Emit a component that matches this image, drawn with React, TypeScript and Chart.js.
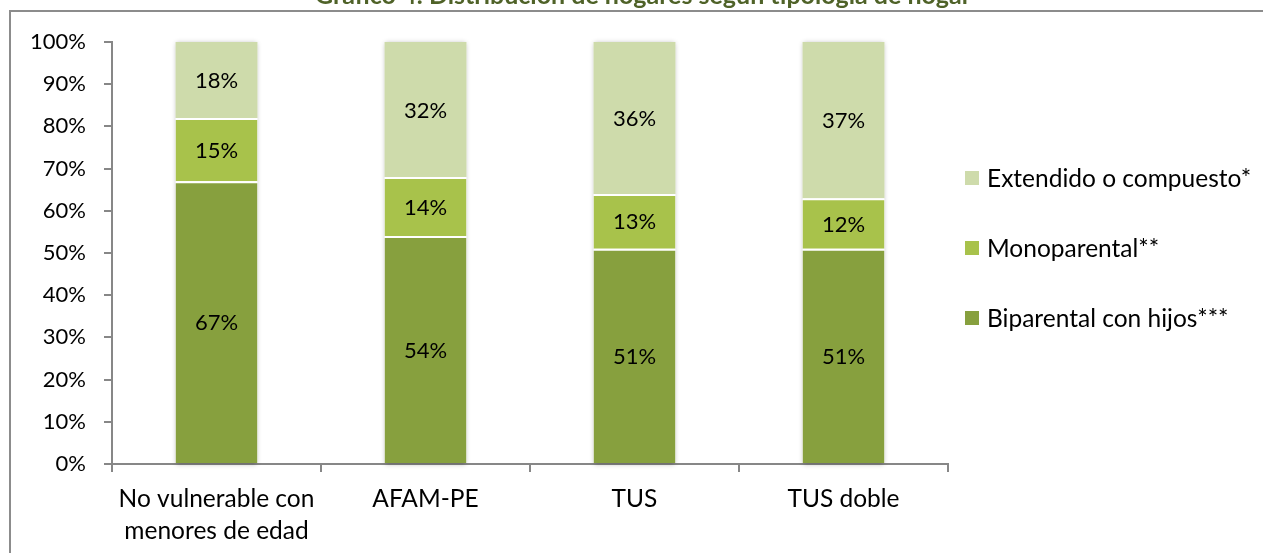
import React, { useEffect, useRef } from "react";
import { Chart, registerables } from "chart.js";

Chart.register(...registerables);

const chartTitle = "Gráfico 4: Distribución de hogares según tipología de hogar";
const categories: (string | string[])[] = [
  ["No vulnerable con", "menores de edad"],
  "AFAM-PE",
  "TUS",
  "TUS doble",
];
const seriesNames = ["Biparental con hijos***", "Monoparental**", "Extendido o compuesto*"];
const biparental = [67, 54, 51, 51];
const monoparental = [15, 14, 13, 12];
const extendido = [18, 32, 36, 37];
const seriesColors = ["#87A03E", "#A8C24B", "#CEDBAB"];
const yTickLabels = ["0%", "10%", "20%", "30%", "40%", "50%", "60%", "70%", "80%", "90%", "100%"];

const W = 1263;
const H = 553;
const FONT = "Lato";
const AXIS_COLOR = "#878787";

const framePlugin = {
  id: "frameTitle",
  beforeDraw(chart: any) {
    const ctx = chart.ctx;
    ctx.save();
    ctx.fillStyle = "#ffffff";
    ctx.fillRect(0, 0, W, H);
    ctx.strokeStyle = "#8C8C8C";
    ctx.lineWidth = 2;
    ctx.strokeRect(10, 11, 2000, 2000);
    ctx.fillStyle = "#4F6228";
    ctx.font = `bold 25px ${FONT}`;
    ctx.textAlign = "center";
    ctx.textBaseline = "alphabetic";
    ctx.fillText(chartTitle, 643, 4);
    ctx.restore();
  },
};

const shadowPlugin = {
  id: "barShadow",
  beforeDatasetsDraw(chart: any) {
    const ctx = chart.ctx;
    const n = chart.data.datasets.length;
    const first = chart.getDatasetMeta(0).data;
    const last = chart.getDatasetMeta(n - 1).data;
    ctx.save();
    ctx.shadowColor = "rgba(0,0,0,0.30)";
    ctx.shadowBlur = 5;
    ctx.shadowOffsetX = 0;
    ctx.shadowOffsetY = 1;
    ctx.fillStyle = "#ffffff";
    first.forEach((el: any, i: number) => {
      const p = el.getProps(["x", "base", "width"], true);
      const top = last[i].getProps(["y"], true).y;
      ctx.fillRect(p.x - p.width / 2, top, p.width, p.base - top);
    });
    ctx.restore();
  },
};

const labelPlugin = {
  id: "barLabels",
  afterDatasetsDraw(chart: any) {
    const ctx = chart.ctx;
    ctx.save();
    ctx.fillStyle = "#000000";
    ctx.font = `22px ${FONT}`;
    ctx.textAlign = "center";
    ctx.textBaseline = "middle";
    chart.data.datasets.forEach((ds: any, di: number) => {
      const meta = chart.getDatasetMeta(di);
      meta.data.forEach((el: any, i: number) => {
        const p = el.getProps(["x", "y", "base"], true);
        ctx.fillText(`${ds.data[i]}%`, p.x, (p.y + p.base) / 2 + 1);
      });
    });
    ctx.restore();
  },
};

const legendPlugin = {
  id: "sideLegend",
  afterDraw(chart: any) {
    const ctx = chart.ctx;
    const ds = chart.data.datasets;
    ctx.save();
    ctx.font = `24.5px ${FONT}`;
    ctx.textAlign = "left";
    ctx.textBaseline = "middle";
    const x0 = 965;
    const yStart = 178;
    const step = 70;
    for (let k = 0; k < ds.length; k++) {
      const d = ds[ds.length - 1 - k];
      const y = yStart + k * step;
      ctx.fillStyle = d.backgroundColor;
      ctx.fillRect(x0, y - 7, 14, 14);
      ctx.fillStyle = "#000000";
      ctx.fillText(d.label, x0 + 22, y + 1);
    }
    ctx.restore();
  },
};

export default function App() {
  const canvasRef = useRef<HTMLCanvasElement | null>(null);

  useEffect(() => {
    if (!canvasRef.current) return;
    const series = [biparental, monoparental, extendido];
    const chart = new Chart(canvasRef.current, {
      type: "bar",
      data: {
        labels: categories as any,
        datasets: series.map((vals, i) => ({
          label: seriesNames[i],
          data: vals,
          backgroundColor: seriesColors[i],
          borderColor: "#ffffff",
          borderWidth: i < series.length - 1 ? { top: 2, left: 0, right: 0, bottom: 0 } : 0,
          borderSkipped: "start",
          barPercentage: 0.392,
          categoryPercentage: 1,
        })),
      },
      options: {
        responsive: false,
        animation: false,
        layout: { padding: { left: 0, right: W - 948, top: 42, bottom: 0 } },
        plugins: {
          legend: { display: false },
          title: { display: false },
          tooltip: { enabled: false },
        },
        scales: {
          x: {
            stacked: true,
            grid: {
              display: true,
              drawOnChartArea: false,
              drawTicks: true,
              tickLength: 8,
              color: AXIS_COLOR,
              lineWidth: 2,
              offset: true,
            },
            border: { display: true, color: AXIS_COLOR, width: 2 },
            ticks: {
              color: "#000000",
              font: { family: FONT, size: 24.5, lineHeight: 1.27 },
              padding: 12,
              maxRotation: 0,
              autoSkip: false,
            },
            afterFit: (s: any) => {
              s.height = H - 464;
            },
          },
          y: {
            stacked: true,
            min: 0,
            max: 100,
            grid: {
              display: true,
              drawOnChartArea: false,
              drawTicks: true,
              tickLength: 8,
              color: AXIS_COLOR,
              lineWidth: 2,
            },
            border: { display: true, color: AXIS_COLOR, width: 2 },
            ticks: {
              stepSize: 10,
              color: "#000000",
              font: { family: FONT, size: 22 },
              padding: 18,
              callback: (_v: any, idx: number) => yTickLabels[idx],
            },
            afterFit: (s: any) => {
              s.width = 112;
            },
          },
        },
      },
      plugins: [framePlugin, shadowPlugin, labelPlugin, legendPlugin],
    } as any);
    return () => chart.destroy();
  }, []);

  return (
    <div style={{ position: "fixed", left: 0, top: 0, width: W, height: H, background: "#fff" }}>
      <canvas ref={canvasRef} width={W} height={H} style={{ display: "block", width: W, height: H }} />
    </div>
  );
}
